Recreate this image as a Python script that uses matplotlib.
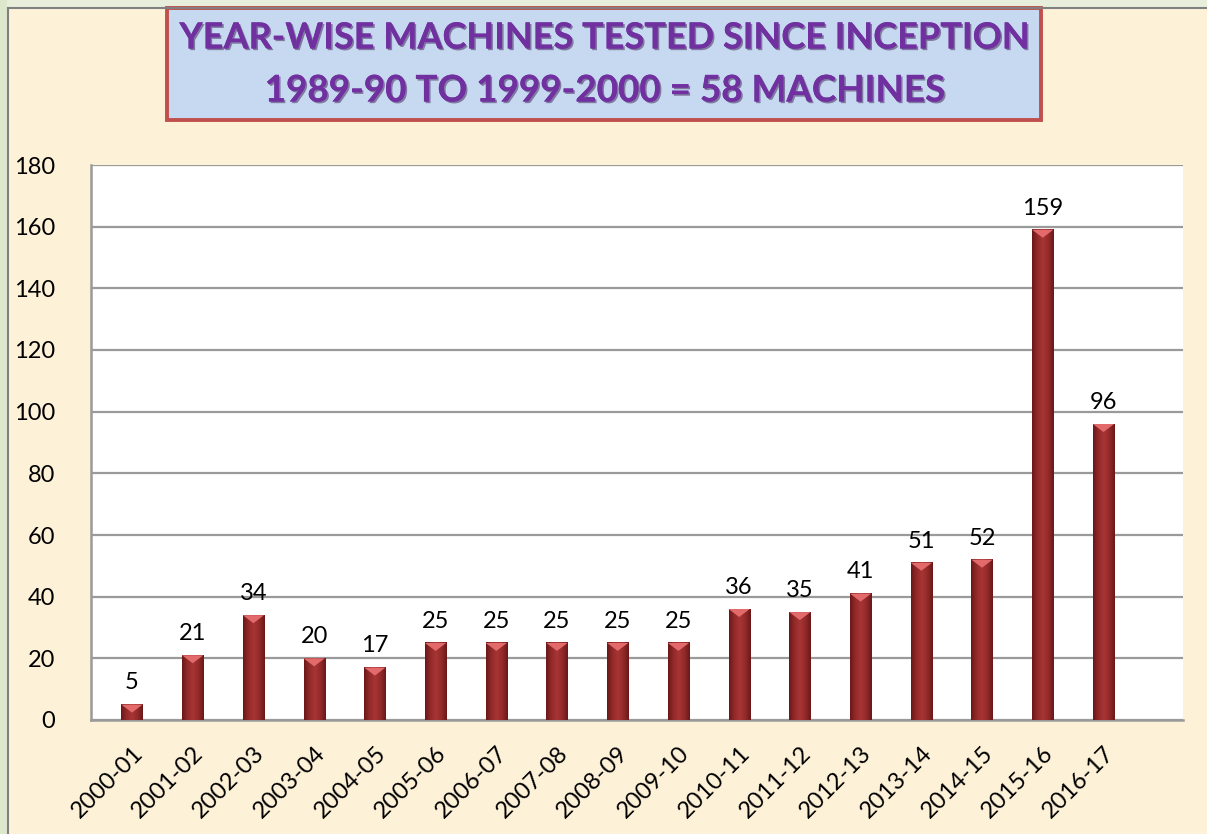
import matplotlib.pyplot as plt
import matplotlib.patheffects as pe
from matplotlib.patches import Rectangle, Polygon
import numpy as np

years = ['2000-01', '2001-02', '2002-03', '2003-04', '2004-05', '2005-06',
         '2006-07', '2007-08', '2008-09', '2009-10', '2010-11', '2011-12',
         '2012-13', '2013-14', '2014-15', '2015-16', '2016-17']
machines = [5, 21, 34, 20, 17, 25, 25, 25, 25, 25, 36, 35, 41, 51, 52, 159, 96]
yticks = [0, 20, 40, 60, 80, 100, 120, 140, 160, 180]
title_1 = 'YEAR-WISE MACHINES TESTED SINCE INCEPTION'
title_2 = '1989-90 TO 1999-2000 = 58 MACHINES'

plt.rcParams['font.family'] = ['Lato', 'DejaVu Sans']

fig = plt.figure(figsize=(12.07, 8.34), dpi=100)
fig.patch.set_facecolor('#FDF1D8')

# green frame strips at top and left
fig.patches.append(Rectangle((0, 1 - 7 / 834), 1, 7 / 834, transform=fig.transFigure,
                             facecolor='#E7EEDB', edgecolor='none', zorder=0))
fig.patches.append(Rectangle((0, 0), 7 / 1207, 1, transform=fig.transFigure,
                             facecolor='#DCE7CC', edgecolor='none', zorder=0))
fig.add_artist(plt.Line2D([7.5 / 1207, 1], [1 - 7.5 / 834, 1 - 7.5 / 834],
                          transform=fig.transFigure, color='#808080', lw=1.5))
fig.add_artist(plt.Line2D([7.5 / 1207, 7.5 / 1207], [0, 1 - 7.5 / 834],
                          transform=fig.transFigure, color='#808080', lw=1.5))

ax = fig.add_axes([91 / 1207, 114 / 834, 1092 / 1207, 555 / 834])
ax.set_facecolor('white')

x = np.arange(len(years))
w = 0.35

# gradient bars (dark edges, lighter middle)
grad = np.abs(np.linspace(-1, 1, 64))
grad = np.vstack([grad, grad])
cmap = plt.matplotlib.colors.LinearSegmentedColormap.from_list(
    'barg', ['#A83434', '#932A2A', '#6A1818'])
bevel = 2.6
for xi, v in zip(x, machines):
    ax.imshow(grad, cmap=cmap, aspect='auto', extent=(xi - w / 2, xi + w / 2, 0, v),
              zorder=3, interpolation='bicubic')
    ax.add_patch(Polygon([(xi - w / 2, v), (xi + w / 2, v), (xi, v - bevel)],
                         closed=True, facecolor='#E26A6A', edgecolor='none', zorder=4))
    ax.text(xi, v + 3.6, str(v), ha='center', va='bottom', fontsize=17, color='black', zorder=5)
ax.set_xlim(-0.675, 17.31)
ax.set_ylim(0, 180)

ax.set_yticks(yticks)
ax.yaxis.grid(True, color='#9A9A9A', lw=1.6, zorder=1)
ax.set_axisbelow(True)
ax.tick_params(axis='y', length=0, pad=26, labelsize=17)
ax.set_xticks(x)
ax.set_xticklabels(years, rotation=45, ha='right', rotation_mode='anchor', fontsize=17)
ax.tick_params(axis='x', length=0, pad=16)
for lbl in ax.get_xticklabels():
    lbl.set_x(lbl.get_position()[0])
for s in ['top', 'right']:
    ax.spines[s].set_visible(False)
for s in ['left', 'bottom']:
    ax.spines[s].set_color('#9A9A9A')
    ax.spines[s].set_linewidth(1.8)

# title box
fig.patches.append(Rectangle((167 / 1207, 1 - 120 / 834), 874 / 1207, 112 / 834,
                             transform=fig.transFigure, facecolor='#C6D9F1',
                             edgecolor='#C0504D', lw=2.8, zorder=1))
shadow = [pe.withSimplePatchShadow(offset=(1.2, -1.2), shadow_rgbFace='#3A1A50', alpha=0.5), pe.Normal()]
fig.text(604 / 1207, 1 - 38 / 834, title_1, ha='center', va='center', fontsize=26,
         fontweight='bold', color='#7030A0', path_effects=shadow)
fig.text(604 / 1207, 1 - 91 / 834, title_2, ha='center', va='center', fontsize=26.5,
         fontweight='bold', color='#7030A0', path_effects=shadow)

fig.savefig('out.png', dpi=100, facecolor=fig.get_facecolor())
